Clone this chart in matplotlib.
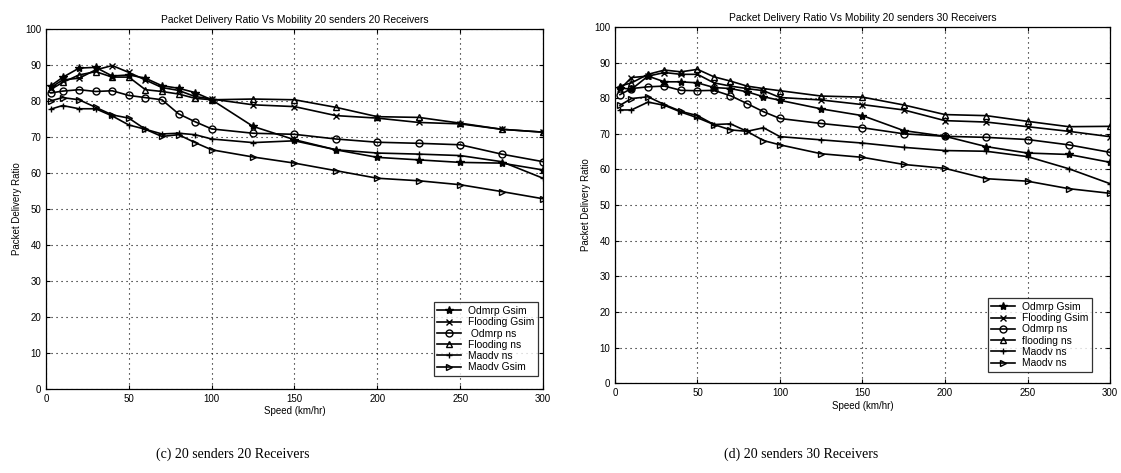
import matplotlib
matplotlib.use('Agg')
import numpy as np
import matplotlib.pyplot as plt

plt.rcParams['font.family'] = ['Liberation Sans', 'DejaVu Sans']

# Скорости (км/ч)
speed = [3, 10, 20, 30, 40, 50, 60, 70, 80, 90, 100, 125, 150, 175, 200, 225, 250, 275, 300]

# (c) 20 senders 20 receivers
odmrp_gsim_c = [84.2, 86.5, 89.1, 89.3, 86.9, 87.2, 86.3, 84.2, 83.5, 82.3, 80.3, 72.9, 69.2, 66.4, 64.3, 63.6, 62.9, 62.7, 60.8]
flood_gsim_c = [83.7, 85.8, 86.3, 88.6, 89.8, 87.9, 85.8, 83.7, 82.9, 81.2, 80.5, 78.9, 78.4, 75.9, 75.2, 74.0, 73.6, 72.1, 71.3]
odmrp_ns_c = [82.2, 82.7, 83.1, 82.6, 82.8, 81.5, 80.9, 80.3, 76.4, 74.2, 72.2, 71.0, 70.7, 69.4, 68.5, 68.2, 67.8, 65.2, 63.1]
flood_ns_c = [83.2, 85.1, 87.2, 88.1, 86.6, 86.6, 83.1, 82.6, 81.9, 80.7, 80.3, 80.5, 80.3, 78.2, 75.6, 75.4, 73.8, 72.1, 71.3]
maodv_ns_c = [77.7, 78.7, 77.8, 77.8, 75.8, 73.3, 72.1, 70.8, 71.0, 70.6, 69.4, 68.4, 68.9, 66.4, 65.5, 65.2, 64.8, 63.1, 58.5]
maodv_gsim_c = [80.0, 80.9, 80.3, 78.2, 76.1, 75.2, 72.1, 70.1, 70.6, 68.4, 66.4, 64.4, 62.7, 60.6, 58.5, 57.8, 56.7, 54.8, 52.8]
labels_c = ['Odmrp Gsim', 'Flooding Gsim', ' Odmrp ns', 'Flooding ns', 'Maodv ns', 'Maodv Gsim']

# (d) 20 senders 30 receivers
odmrp_gsim_d = [82.9, 82.5, 86.2, 84.6, 84.6, 84.3, 83.0, 82.7, 81.8, 80.4, 79.4, 77.0, 75.1, 70.9, 69.3, 66.4, 64.6, 64.2, 62.0]
flood_gsim_d = [82.5, 85.8, 86.2, 87.2, 86.7, 86.7, 84.3, 83.4, 82.7, 82.1, 80.2, 79.5, 78.2, 76.7, 73.7, 73.3, 72.0, 70.7, 69.2]
odmrp_ns_d = [81.0, 82.7, 83.2, 83.4, 82.2, 82.1, 82.2, 80.7, 78.5, 76.2, 74.3, 72.9, 71.7, 70.0, 69.3, 69.0, 68.4, 66.9, 64.8]
flood_ns_d = [83.4, 84.3, 86.7, 87.9, 87.4, 88.1, 86.0, 84.8, 83.4, 82.7, 82.1, 80.6, 80.3, 78.1, 75.4, 75.1, 73.5, 72.0, 72.1]
maodv_ns_d = [76.7, 76.7, 78.9, 78.0, 76.1, 74.5, 72.6, 72.8, 70.7, 71.7, 69.2, 68.3, 67.4, 66.2, 65.3, 65.1, 63.6, 60.2, 56.0]
maodv_gsim_d = [78.0, 79.9, 80.4, 78.2, 76.3, 75.1, 72.6, 71.1, 70.7, 68.1, 66.9, 64.4, 63.4, 61.4, 60.3, 57.4, 56.7, 54.6, 53.3]
labels_d = ['Odmrp Gsim', 'Flooding Gsim', 'Odmrp ns', 'flooding ns', 'Maodv ns', 'Maodv ns']

markers = ['*', 'x', 'o', '^', '+', '>']

fig = plt.figure(figsize=(11.21, 4.73), dpi=100)
ax1 = fig.add_axes([0.041, 0.178, 0.4434, 0.761])
ax2 = fig.add_axes([0.5486, 0.19, 0.4416, 0.753])

def draw(ax, series, labels, title, anchor):
    for y, m, lab in zip(series, markers, labels):
        filled = m in ('*',)
        ax.plot(speed, y, '-', color='black', lw=1.2, marker=m, ms=5 if m != '*' else 6,
                mfc='black' if filled else 'none', mec='black', mew=1.0, label=lab)
    ax.set_xlim(0, 300)
    ax.set_ylim(0, 100)
    ax.set_xticks(np.arange(0, 301, 50))
    ax.set_yticks(np.arange(0, 101, 10))
    ax.grid(True, color='black', linestyle=(0, (1, 3.5)), lw=0.8)
    ax.tick_params(direction='in', top=True, right=True, labelsize=7, length=3)
    ax.set_title(title, fontsize=7.4, pad=4)
    ax.set_xlabel('Speed (km/hr)', fontsize=7, labelpad=2)
    ax.set_ylabel('Packet Delivery Ratio', fontsize=7, labelpad=2)
    for s in ax.spines.values():
        s.set_linewidth(0.9)
    leg = ax.legend(loc='lower right', bbox_to_anchor=anchor, fontsize=7.4, handlelength=2.3,
                    frameon=True, fancybox=False, edgecolor='black', borderpad=0.35,
                    labelspacing=0.12, handletextpad=0.7, borderaxespad=0)
    leg.get_frame().set_linewidth(0.9)

draw(ax1, [odmrp_gsim_c, flood_gsim_c, odmrp_ns_c, flood_ns_c, maodv_ns_c, maodv_gsim_c], labels_c,
     'Packet Delivery Ratio Vs Mobility 20 senders 20 Receivers', (0.99, 0.036))
draw(ax2, [odmrp_gsim_d, flood_gsim_d, odmrp_ns_d, flood_ns_d, maodv_ns_d, maodv_gsim_d], labels_d,
     'Packet Delivery Ratio Vs Mobility 20 senders 30 Receivers', (0.964, 0.032))

fig.text(0.208, 0.033, '(c) 20 senders 20 Receivers', family='Liberation Serif', fontsize=10, ha='center')
fig.text(0.715, 0.033, '(d) 20 senders 30 Receivers', family='Liberation Serif', fontsize=10, ha='center')

fig.savefig('out.png', dpi=100)
